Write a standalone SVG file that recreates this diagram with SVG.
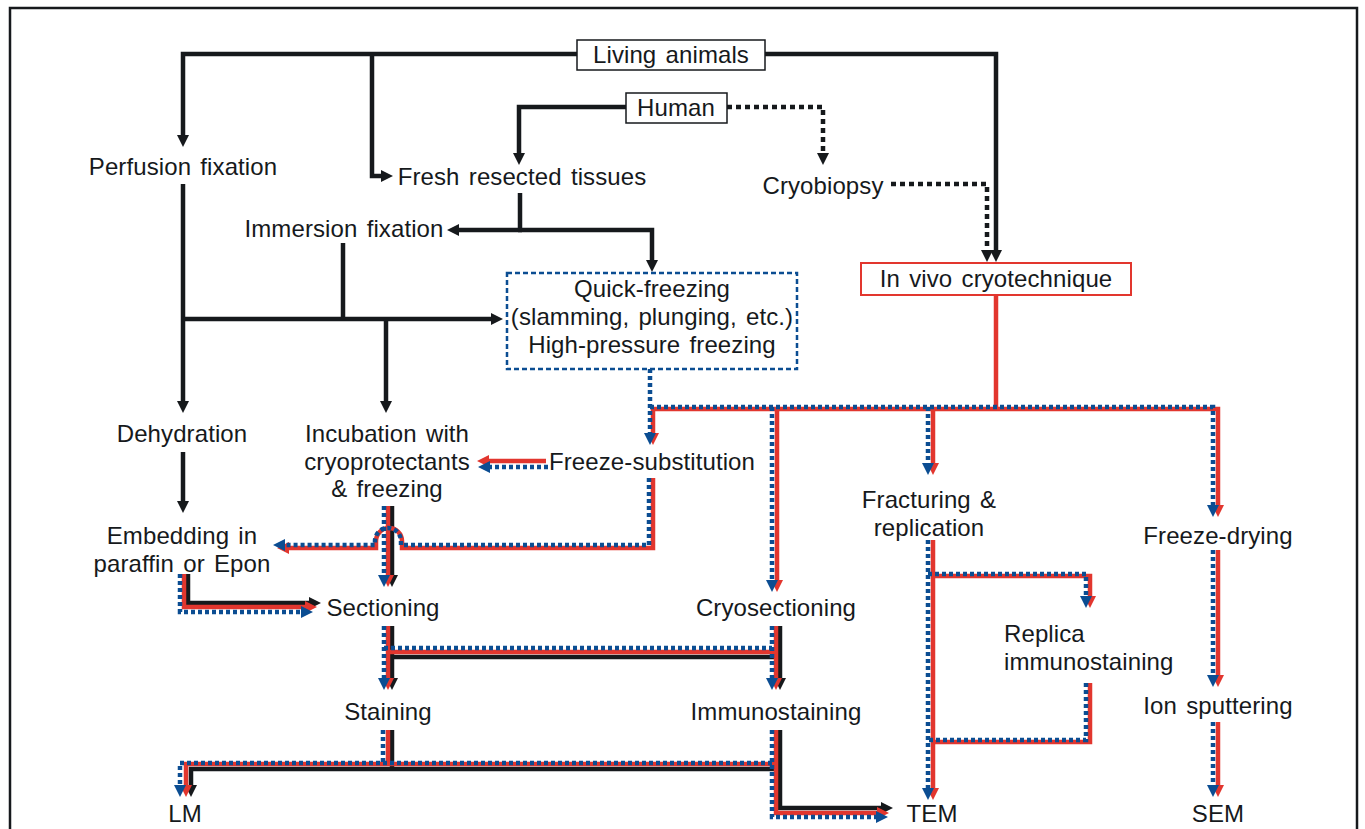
<svg xmlns="http://www.w3.org/2000/svg" width="1365" height="829" viewBox="0 0 1365 829">
<defs>
<style>
.k{stroke:#16191c;stroke-width:4.5;fill:none}
.kd{stroke:#16191c;stroke-width:4.5;fill:none;stroke-dasharray:5 4}
.r{stroke:#e2362e;stroke-width:4.5;fill:none}
.b{stroke:#0b4d92;stroke-width:4.5;fill:none;stroke-dasharray:4 3}
.ak{marker-end:url(#mk)}
.ar{marker-end:url(#mr)}
.ab{marker-end:url(#mb)}
text{font-family:"Liberation Sans",Arial,Helvetica,sans-serif;font-size:24px;fill:#16191c;text-anchor:middle;word-spacing:2.5px;letter-spacing:0.1px}
.box{fill:#fff;stroke:#16191c;stroke-width:1.5}
</style>
<marker id="mk" viewBox="0 0 12 12" refX="3" refY="6" markerWidth="12" markerHeight="12" markerUnits="userSpaceOnUse" orient="auto"><path d="M0,0 L12,6 L0,12 z" fill="#16191c"/></marker>
<marker id="mr" viewBox="0 0 12 12" refX="3" refY="6" markerWidth="12" markerHeight="12" markerUnits="userSpaceOnUse" orient="auto"><path d="M0,0 L12,6 L0,12 z" fill="#e2362e"/></marker>
<marker id="mb" viewBox="0 0 12 12" refX="3" refY="6" markerWidth="12" markerHeight="12" markerUnits="userSpaceOnUse" orient="auto"><path d="M0,0 L12,6 L0,12 z" fill="#0b4d92"/></marker>
</defs>
<rect x="0" y="0" width="1365" height="829" fill="#fff"/>
<rect x="10" y="8" width="1347" height="840" fill="none" stroke="#16191c" stroke-width="2.5"/>

<g id="connectors">
<!-- black solid -->
<path class="k ak" d="M577,54 H183 V138"/>
<path class="k ak" d="M372,54 V176 H384"/>
<path class="k ak" d="M765,54 H996 V253"/>
<path class="k ak" d="M626,107 H519 V156"/>
<path class="k" d="M520,193 V230"/>
<path class="k ak" d="M522,230 H456"/>
<path class="k ak" d="M518,230 H652 V263"/>
<path class="k ak" d="M183,184 V404"/>
<path class="k ak" d="M181,319 H494"/>
<path class="k" d="M343,243 V319"/>
<path class="k ak" d="M386,319 V404"/>
<path class="k ak" d="M183,452 V504"/>
<path class="k ak" d="M188,574 V603 H312"/>
<path class="k ak" d="M392,506 V578"/>
<path class="k ak" d="M392,626 V681"/>
<path class="k" d="M392,657 H780"/>
<path class="k ak" d="M780,626 V681"/>
<path class="k" d="M392,730 V769"/>
<path class="k ak" d="M782,769 H191 V788"/>
<path class="k ak" d="M780,730 V808 H884"/>
<!-- black dotted -->
<path class="kd ak" d="M727,107 H823 V156"/>
<path class="kd ak" d="M891,184 H987 V253"/>
<!-- red -->
<path class="r" d="M996,295 V409"/>
<path class="r ar" d="M653,407 V436"/>
<path class="r ar" d="M651,409 H1218 V508"/>
<path class="r ar" d="M777,409 V583"/>
<path class="r ar" d="M933,409 V466"/>
<path class="r ar" d="M546,461 H486"/>
<path class="r ar" d="M653,478 V548 H402 V541 A13,13 0 0 0 376,541 V548 H286"/>
<path class="r ar" d="M388,506 V578"/>
<path class="r ar" d="M184,574 V607 H308"/>
<path class="r ar" d="M388,626 V681"/>
<path class="r" d="M388,652 H776"/>
<path class="r ar" d="M776,626 V681"/>
<path class="r" d="M388,730 V764"/>
<path class="r ar" d="M778,764 H186 V788"/>
<path class="r ar" d="M776,730 V813 H880"/>
<path class="r ar" d="M933,540 V791"/>
<path class="r ar" d="M933,576 H1090 V599"/>
<path class="r" d="M1090,683 V742 H933"/>
<path class="r ar" d="M1218,550 V678"/>
<path class="r ar" d="M1218,722 V788"/>
<!-- blue dotted -->
<path class="b ab" d="M650,369 V436"/>
<path class="b ab" d="M650,407 H1213 V508"/>
<path class="b ab" d="M772,407 V583"/>
<path class="b ab" d="M928,407 V466"/>
<path class="b ab" d="M548,467 H487"/>
<path class="b ab" d="M649,478 V545 H401 V541 A13,13 0 0 0 375,541 V545 H282"/>
<path class="b ab" d="M384,506 V578"/>
<path class="b ab" d="M180,574 V612 H304"/>
<path class="b ab" d="M384,626 V681"/>
<path class="b" d="M384,648 H772"/>
<path class="b ab" d="M772,626 V681"/>
<path class="b" d="M383,730 V763"/>
<path class="b ab" d="M772,763 H180 V788"/>
<path class="b ab" d="M772,730 V817 H879"/>
<path class="b ab" d="M928,540 V791"/>
<path class="b ab" d="M928,574 H1086 V599"/>
<path class="b" d="M1086,683 V740 H928"/>
<path class="b ab" d="M1213,550 V678"/>
<path class="b ab" d="M1213,722 V788"/>
</g>

<g id="living"><rect class="box" x="577" y="40" width="188" height="30"/><text x="671" y="63">Living animals</text></g>
<g id="human"><rect class="box" x="626" y="93" width="101" height="30"/><text x="676" y="116">Human</text></g>
<g id="perfusion"><text x="183" y="175">Perfusion fixation</text></g>
<g id="fresh"><text x="522" y="185">Fresh resected tissues</text></g>
<g id="cryobiopsy"><text x="823" y="194">Cryobiopsy</text></g>
<g id="immersion"><text x="344" y="237">Immersion fixation</text></g>
<g id="invivo"><rect x="861" y="263" width="270" height="32" fill="#fff" stroke="#e2362e" stroke-width="2"/><text x="996" y="287">In vivo cryotechnique</text></g>
<g id="quick"><rect x="507" y="273" width="290" height="96" fill="#fff" stroke="#0b4d92" stroke-width="2.5" stroke-dasharray="5 3"/><text x="652" y="297">Quick-freezing</text><text x="652" y="325">(slamming, plunging, etc.)</text><text x="652" y="353">High-pressure freezing</text></g>
<g id="dehydration"><text x="182" y="442">Dehydration</text></g>
<g id="incubation"><text x="387" y="442">Incubation with</text><text x="387" y="470">cryoprotectants</text><text x="387" y="497">&amp; freezing</text></g>
<g id="freezesub"><text x="652" y="470">Freeze-substitution</text></g>
<g id="fracturing"><text x="929" y="508">Fracturing &amp;</text><text x="929" y="536">replication</text></g>
<g id="freezedrying"><text x="1218" y="544">Freeze-drying</text></g>
<g id="embedding"><text x="182" y="544">Embedding in</text><text x="182" y="572">paraffin or Epon</text></g>
<g id="sectioning"><text x="383" y="616">Sectioning</text></g>
<g id="cryosectioning"><text x="776" y="616">Cryosectioning</text></g>
<g id="replica"><text x="1004" y="642" style="text-anchor:start">Replica</text><text x="1004" y="670" style="text-anchor:start">immunostaining</text></g>
<g id="staining"><text x="388" y="720">Staining</text></g>
<g id="immunostaining"><text x="776" y="720">Immunostaining</text></g>
<g id="ion"><text x="1218" y="714">Ion sputtering</text></g>
<g id="lm"><text x="185" y="822">LM</text></g>
<g id="tem"><text x="932" y="822">TEM</text></g>
<g id="sem"><text x="1218" y="822">SEM</text></g>
</svg>
